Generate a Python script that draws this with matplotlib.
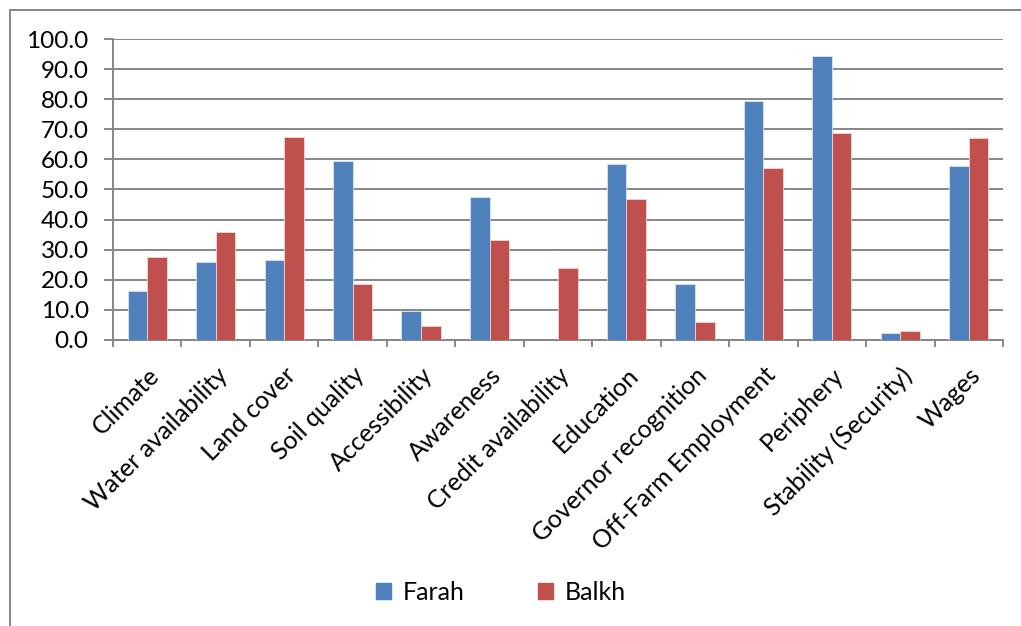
import numpy as np
import matplotlib.pyplot as plt
from matplotlib.patches import Rectangle, Patch

# --- data ---
categories = ["Climate", "Water availability", "Land cover", "Soil quality",
              "Accessibility", "Awareness", "Credit availability", "Education",
              "Governor recognition", "Off-Farm Employment", "Periphery",
              "Stability (Security)", "Wages"]
farah = [16.3, 25.9, 26.5, 59.6, 9.7, 47.6, 0.0, 58.6, 18.4, 79.5, 94.3, 2.1, 57.7]
balkh = [27.6, 35.8, 67.5, 18.6, 4.6, 33.1, 23.8, 46.8, 5.8, 57.0, 68.8, 2.9, 67.0]
yticks = [0, 10, 20, 30, 40, 50, 60, 70, 80, 90, 100]

blue = "#4F81BD"
red = "#C0504D"
grey = "#868686"

plt.rcParams['font.family'] = ['Lato', 'DejaVu Sans']

fig = plt.figure(figsize=(10.21, 6.26), dpi=100)
ax = fig.add_axes([113 / 1021, 1 - 339.7 / 626, 890 / 1021, 300.4 / 626])

x = np.arange(len(categories))
w = 0.287
ax.bar(x - w / 2, farah, w, color=blue, edgecolor="#dbe4f0", linewidth=0.6, zorder=3)
ax.bar(x + w / 2, balkh, w, color=red, edgecolor="#f0d6d5", linewidth=0.6, zorder=3)

ax.set_xlim(-0.5, len(categories) - 0.5)
ax.set_ylim(0, 100)
ax.set_yticks(yticks)
ax.set_yticklabels([f"{v:.1f}" for v in yticks], fontsize=17.5)
ax.yaxis.grid(True, color=grey, linewidth=1.4, zorder=0)
ax.set_axisbelow(True)
ax.tick_params(axis="y", length=6.5, width=1.4, color=grey, pad=11)

ax.set_xticks(x)
ax.set_xticklabels(categories, rotation=45, ha="right", va="top",
                   rotation_mode="anchor", fontsize=18)
ax.tick_params(axis="x", which="major", length=0, pad=17)
ax.set_xticks(np.arange(len(categories) + 1) - 0.5, minor=True)
ax.tick_params(axis="x", which="minor", length=5, width=1.4, color=grey)

for s in ["top", "right"]:
    ax.spines[s].set_visible(False)
for s in ["left", "bottom"]:
    ax.spines[s].set_color(grey)
    ax.spines[s].set_linewidth(1.4)

# outer chart border
fig.patches.append(Rectangle((10 / 1021, -0.2), 1.2, 1.2 - 10 / 626,
                             transform=fig.transFigure, fill=False,
                             edgecolor=grey, linewidth=1.4))

handles = [Patch(color=blue, label="Farah"), Patch(color=red, label="Balkh")]
fig.legend(handles=handles, loc="center", bbox_to_anchor=(501 / 1021, 1 - 592 / 626),
           ncol=2, frameon=False, fontsize=18, handlelength=0.6, handleheight=0.6,
           handletextpad=0.45, columnspacing=2.95)

fig.savefig("out.png", dpi=100)
